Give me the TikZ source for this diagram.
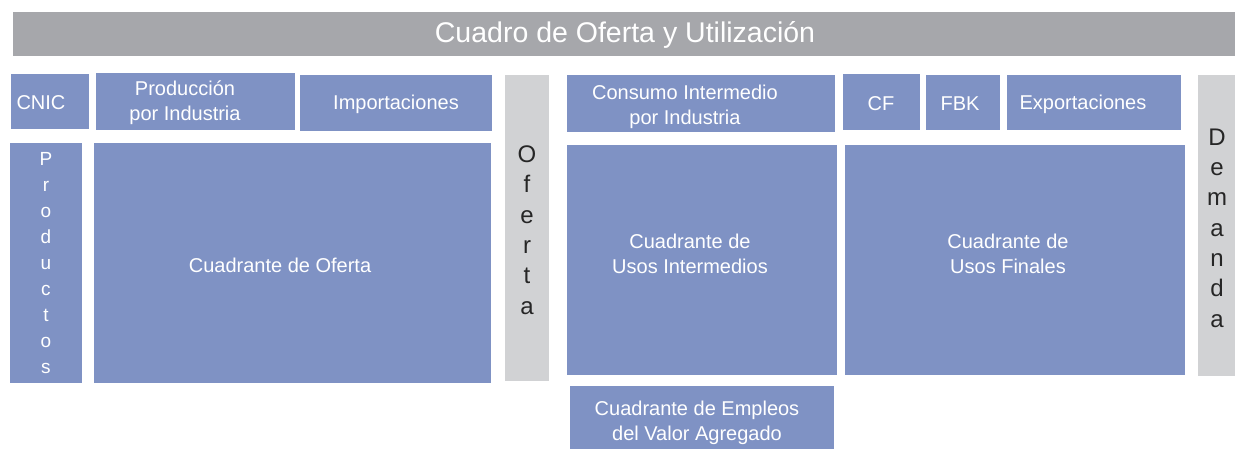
\documentclass[tikz,border=0pt]{standalone}
\usepackage{fontspec}
\setmainfont{Liberation Sans}
\definecolor{blu}{HTML}{7F92C4}
\definecolor{tgray}{HTML}{A6A7AB}
\definecolor{lgray}{HTML}{D1D2D4}
\definecolor{dtext}{HTML}{262626}
\newcommand\blk[6]{\node[#6, minimum width={(#4-#2)*1pt}, minimum height={(#5-#3)*1pt}] (#1) at ({(#2+#4)/2},{(#3+#5)/2}) {};}
\begin{document}
\begin{tikzpicture}[x=1pt,y=-1pt,
  boxbase/.style={rectangle, draw=none, inner sep=0pt, outer sep=0pt},
  bluebox/.style={boxbase, fill=blu},
  titlebox/.style={boxbase, fill=tgray},
  greybox/.style={boxbase, fill=lgray},
  wt/.style={text=white, align=center, inner sep=0pt, font=\fontsize{20}{25.5}\selectfont},
  ttl/.style={text=white, inner sep=0pt, font=\fontsize{28.5}{34}\selectfont},
  vletw/.style={text=white, align=center, inner sep=0pt, font=\fontsize{19}{26}\selectfont},
  vletd/.style={text=dtext, align=center, inner sep=0pt, font=\fontsize{24}{30.3}\selectfont}]
\useasboundingbox (0,0) rectangle (1235,449);
% title
\blk{title}{13}{12}{1235}{56}{titlebox}
\node[ttl] (titleT) at (625,35) {Cuadro de Oferta y Utilización};
% supply side
\blk{cnic}{11}{74}{89}{129}{bluebox}
\node[wt] (cnicT) at (41,103) {CNIC};
\blk{prod}{96}{73}{295}{130}{bluebox}
\node[wt] (prodT) at (185,102.5) {Producción\\por Industria};
\blk{imp}{300}{75}{492}{131}{bluebox}
\node[wt] (impT) at (396,104) {Importaciones};
\blk{prods}{10}{143}{82}{383}{bluebox}
\node[vletw] (prodsT) at (46,263) {P\\r\\o\\d\\u\\c\\t\\o\\s};
\blk{cof}{94}{143}{491}{383}{bluebox}
\node[wt] (cofT) at (280,265) {Cuadrante de Oferta};
\blk{ofe}{505}{75}{549}{381}{greybox}
\node[vletd] (ofeT) at (527,230) {O\\f\\e\\r\\t\\a};
% use side
\blk{ci}{567}{75}{835}{132}{bluebox}
\node[wt] (ciT) at (685,107) {Consumo Intermedio\\por Industria};
\blk{cf}{843}{74}{920}{130}{bluebox}
\node[wt] (cfT) at (881,104) {CF};
\blk{fbk}{926}{75}{1000}{130}{bluebox}
\node[wt] (fbkT) at (960,104) {FBK};
\blk{exp}{1007}{75}{1181}{130}{bluebox}
\node[wt] (expT) at (1083,104) {Exportaciones};
\blk{dem}{1198}{75}{1235}{376}{greybox}
\node[vletd] (demT) at (1217,228) {D\\e\\m\\a\\n\\d\\a};
\blk{ui}{567}{145}{837}{375}{bluebox}
\node[wt] (uiT) at (690,254) {Cuadrante de\\Usos Intermedios};
\blk{uf}{845}{145}{1185}{375}{bluebox}
\node[wt] (ufT) at (1008,254) {Cuadrante de\\Usos Finales};
\blk{va}{570}{386}{834}{449}{bluebox}
\node[wt] (vaT) at (697,423) {Cuadrante de Empleos\\del Valor Agregado};
\end{tikzpicture}
\end{document}
